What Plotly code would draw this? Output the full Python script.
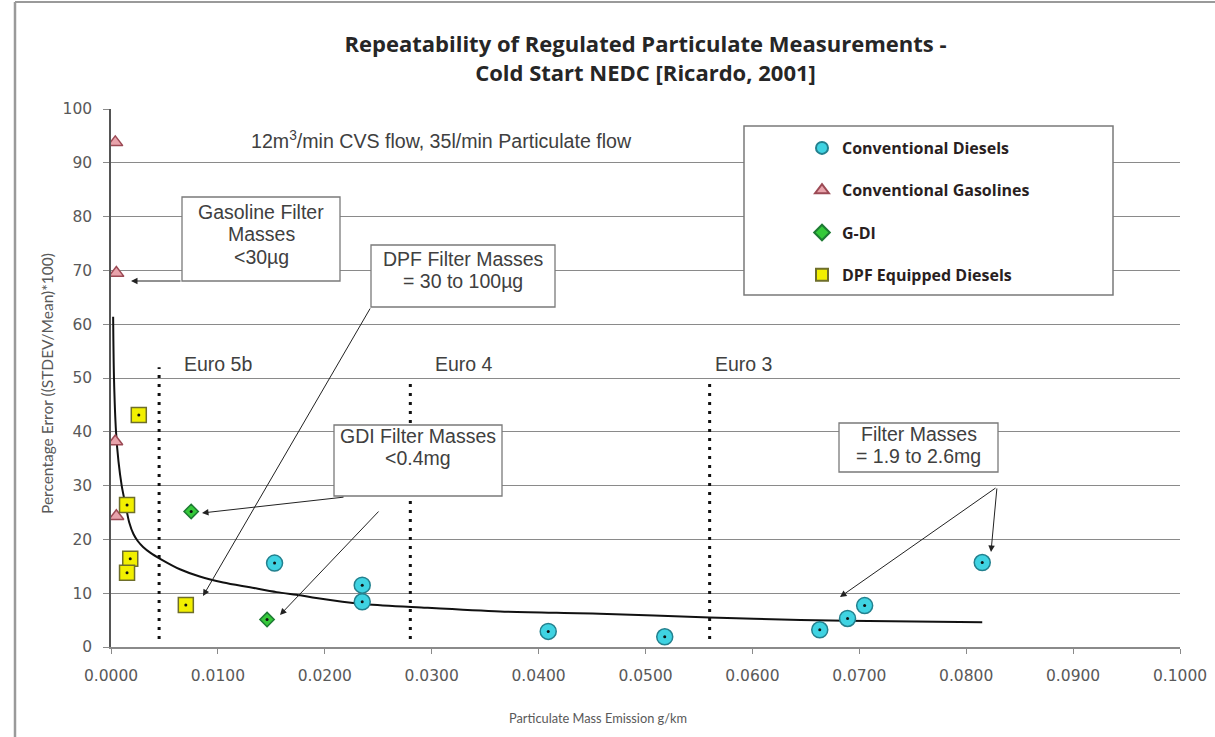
import plotly.graph_objects as go

# ---- data -------------------------------------------------------------
diesel_x = [0.0153, 0.0235, 0.0235, 0.0409, 0.0518, 0.0663, 0.0689, 0.0705, 0.0815]
diesel_y = [15.6, 11.5, 8.4, 2.9, 1.9, 3.2, 5.3, 7.7, 15.7]

gasoline_x = [0.0004, 0.0005, 0.0004, 0.0005]
gasoline_y = [93.8, 69.5, 38.2, 24.3]

gdi_x = [0.0075, 0.0146]
gdi_y = [25.2, 5.1]

dpf_x = [0.0026, 0.0015, 0.0018, 0.0015, 0.0070]
dpf_y = [43.1, 26.4, 16.4, 13.8, 7.8]

trend_x = [0.0002, 0.00028, 0.00047, 0.0007, 0.0010, 0.0014, 0.0017, 0.0021, 0.0025,
           0.0030, 0.0037, 0.0046, 0.0065, 0.0083, 0.0105, 0.0130, 0.0155, 0.0177,
           0.0192, 0.0235, 0.0286, 0.0364, 0.0457, 0.0560, 0.0645, 0.0730, 0.0815]
trend_y = [61.4, 50, 40, 34.5, 30, 26.0, 23.2, 21.0, 19.7,
           18.6, 17.5, 16.4, 14.4, 13.1, 12.0, 11.1, 10.2, 9.6,
           9.1, 8.0, 7.4, 6.6, 6.2, 5.5, 5.0, 4.8, 4.6]

euro_names = ["Euro 5b", "Euro 4", "Euro 3"]
euro_x = [0.0045, 0.028, 0.056]
euro_top = [52, 50, 50]
euro_bottom = 1.5

x_ticks = [0.00, 0.01, 0.02, 0.03, 0.04, 0.05, 0.06, 0.07, 0.08, 0.09, 0.10]

# ---- layout geometry (pixels) -----------------------------------------
W, H = 1215, 737
L, R, T, B = 111, 1180, 109, 647


def px_x(px):
    return (px - L) / (R - L)


def px_y(py):
    return (B - py) / (B - T)


GREY_TXT = "#404040"
AXIS_TXT = "#595959"
GRID = "#8a8a8a"
NOTE_FONT = "Liberation Sans, Arial"

fig = go.Figure()

# Euro limit lines
for name, ex, top in zip(euro_names, euro_x, euro_top):
    fig.add_trace(go.Scatter(
        x=[ex, ex], y=[euro_bottom, top], mode="lines",
        line=dict(color="#111111", width=3, dash="3px,6px"),
        showlegend=False, hoverinfo="skip"))

# trend curve
fig.add_trace(go.Scatter(
    x=trend_x, y=trend_y, mode="lines",
    line=dict(color="#111111", width=2, shape="spline", smoothing=0.8),
    showlegend=False, hoverinfo="skip"))

series = [
    ("Conventional Diesels", diesel_x, diesel_y, "circle", 16, "#3fd3e2", "#23808e", True),
    ("Conventional Gasolines", gasoline_x, gasoline_y, "triangle-up", 13, "#e8a3ab", "#9c4a55", False),
    ("G-DI", gdi_x, gdi_y, "diamond", 11, "#35c93a", "#1d7a33", True),
    ("DPF Equipped Diesels", dpf_x, dpf_y, "square", 15, "#f2f000", "#6e6e2a", True),
]

for i, (name, xs, ys, sym, size, fill, edge, dot) in enumerate(series):
    fig.add_trace(go.Scatter(
        x=xs, y=ys, mode="markers", name=name, legendgroup=f"g{i}",
        marker=dict(symbol=sym, size=size, color=fill,
                    line=dict(color=edge, width=1.5))))
    if dot:
        fig.add_trace(go.Scatter(
            x=xs, y=ys, mode="markers", showlegend=False, hoverinfo="skip",
            marker=dict(symbol="circle", size=3, color="#111111")))

annotations = []
shapes = []

# boxed notes: lines, box left/right/top/bottom, text centre y
boxes = [
    (["Gasoline Filter", "Masses", "&lt;30µg"], 182, 340, 197, 281, 234),
    (["DPF Filter Masses", "= 30 to 100µg"], 371, 555, 245, 307, 270),
    (["GDI Filter Masses", "&lt;0.4mg"], 334, 502, 425, 496, 447),
    (["Filter Masses", "= 1.9 to 2.6mg"], 839, 998, 423, 472, 445),
]
LINE_GAP = 22.5
for lines, x0, x1, y0, y1, cy in boxes:
    shapes.append(dict(
        type="rect", xref="paper", yref="paper", layer="above",
        x0=px_x(x0), x1=px_x(x1), y0=px_y(y1), y1=px_y(y0),
        fillcolor="white", line=dict(color="#7a7a7a", width=1.3)))
    n = len(lines)
    for k, line in enumerate(lines):
        ly = cy + (k - (n - 1) / 2) * LINE_GAP
        annotations.append(dict(
            text=line, xref="paper", yref="paper",
            x=px_x((x0 + x1) / 2), y=px_y(ly),
            xanchor="center", yanchor="middle", showarrow=False,
            font=dict(family=NOTE_FONT, size=19.5, color=GREY_TXT)))

# arrows (tail px -> head px), placed in axis-domain units
arrows = [
    ((182, 281), (131, 281)),
    ((371, 307), (203, 596)),
    ((345, 497), (202, 513)),
    ((380, 510), (280, 615)),
    ((997, 487), (840, 597)),
    ((997, 487), (991, 552)),
]
for (tx, ty), (hx, hy) in arrows:
    annotations.append(dict(
        text="", xref="x domain", yref="y domain",
        axref="x domain", ayref="y domain",
        x=px_x(hx), y=px_y(hy), ax=px_x(tx), ay=px_y(ty),
        showarrow=True, arrowhead=2, arrowsize=1.3, arrowwidth=1,
        arrowcolor="#222222"))

# flow conditions note
annotations.append(dict(
    text="12m<sup>3</sup>/min CVS flow, 35l/min Particulate flow",
    xref="paper", yref="paper", x=px_x(441), y=px_y(140),
    xanchor="center", yanchor="middle", showarrow=False,
    font=dict(family=NOTE_FONT, size=19.6, color=GREY_TXT)))

# Euro labels
for name, lx in zip(euro_names, [182, 433, 713]):
    annotations.append(dict(
        text=name, xref="paper", yref="paper", x=px_x(lx), y=px_y(364),
        xanchor="left", yanchor="middle", showarrow=False,
        font=dict(family=NOTE_FONT, size=19.5, color=GREY_TXT)))

# axis titles
annotations.append(dict(
    text="Percentage Error ((STDEV/Mean)*100)", xref="paper", yref="paper",
    x=px_x(47), y=px_y(384), textangle=-90, showarrow=False,
    xanchor="center", yanchor="middle",
    font=dict(family="Lato, Carlito, sans-serif", size=15.5, color=AXIS_TXT)))
annotations.append(dict(
    text="Particulate Mass Emission g/km", xref="paper", yref="paper",
    x=px_x(598), y=px_y(718), showarrow=False,
    xanchor="center", yanchor="middle",
    font=dict(family="Lato, Carlito, sans-serif", size=12.8, color=AXIS_TXT)))

# legend panel
shapes.append(dict(
    type="rect", xref="paper", yref="paper", layer="above",
    x0=px_x(744), x1=px_x(1113), y0=px_y(295), y1=px_y(126),
    fillcolor="white", line=dict(color="#7a7a7a", width=1.5)))
# outer chart frame (left and top edges)
shapes.append(dict(
    type="line", xref="paper", yref="paper", layer="below",
    x0=px_x(15), x1=px_x(15), y0=px_y(760), y1=px_y(2),
    line=dict(color="#9a9a9a", width=2.5)))
shapes.append(dict(
    type="line", xref="paper", yref="paper", layer="below",
    x0=px_x(15), x1=px_x(1260), y0=px_y(2), y1=px_y(2),
    line=dict(color="#9a9a9a", width=2)))

fig.update_layout(
    width=W, height=H,
    margin=dict(l=L, r=W - R, t=T, b=H - B, autoexpand=False),
    paper_bgcolor="white", plot_bgcolor="white",
    title=dict(
        text="Repeatability of Regulated Particulate Measurements -<br>Cold Start NEDC [Ricardo, 2001]",
        x=0.5, xref="paper", xanchor="center",
        y=1 - 52 / H, yanchor="middle",
        font=dict(family="Open Sans, sans-serif", size=22, color="#262626", weight="bold")),
    xaxis=dict(
        range=[0, 0.1], tickvals=x_ticks, tickformat=".4f",
        showgrid=False, zeroline=False, showline=True, linecolor=GRID, linewidth=1.5,
        ticks="outside", ticklen=5, tickcolor=GRID, ticklabelstandoff=9,
        tickfont=dict(family="DejaVu Sans", size=15.5, color=AXIS_TXT)),
    yaxis=dict(
        range=[0, 100], dtick=10,
        showgrid=True, gridcolor=GRID, gridwidth=1.2, zeroline=False,
        showline=True, linecolor="#555555", linewidth=1.5,
        ticks="outside", ticklen=6, tickcolor=GRID, ticklabelstandoff=8,
        tickfont=dict(family="DejaVu Sans", size=15.5, color=AXIS_TXT)),
    legend=dict(
        x=px_x(802), y=px_y(131), xanchor="left", yanchor="top",
        bgcolor="rgba(0,0,0,0)", borderwidth=0, tracegroupgap=18.5,
        itemsizing="constant",
        font=dict(family="Open Sans, sans-serif", size=16, color="#2a1f1f", weight="bold")),
    annotations=annotations,
    shapes=shapes,
)

fig.write_html("out.html")
